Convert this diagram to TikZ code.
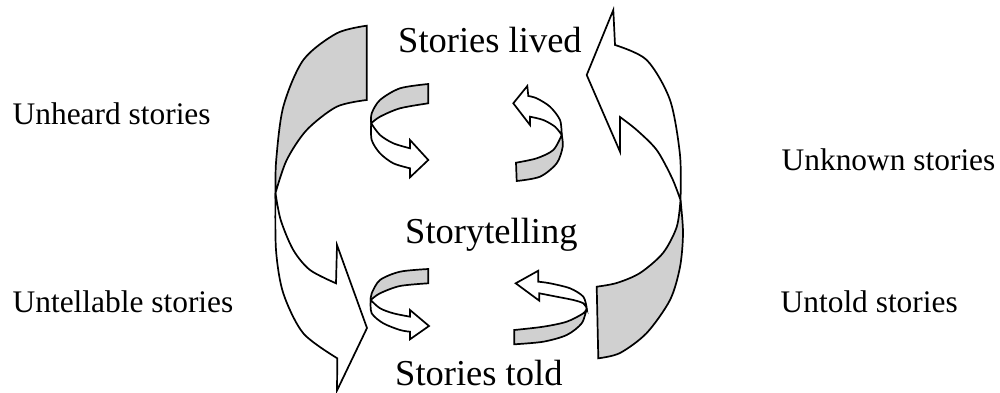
\documentclass[tikz,border=0pt]{standalone}
\usepackage{fontspec}
\setmainfont{Liberation Serif}
\definecolor{bandgrey}{RGB}{208,208,208}
\tikzset{
  band/.style={draw=black, line width=1.7pt, line join=miter},
  greyband/.style={band, fill=bandgrey},
  whiteband/.style={band, fill=white},
  sidelabel/.style={anchor=base west, inner sep=0pt, font=\fontsize{31.4}{36}\selectfont},
  midlabel/.style={anchor=base west, inner sep=0pt, font=\fontsize{36.5}{42}\selectfont},
}
\begin{document}
\begin{tikzpicture}[x=1pt,y=-1pt]
\useasboundingbox (0,0) rectangle (1000,393);

% ---------- left big circular arrow ----------
\filldraw[greyband] plot[smooth] coordinates {(366.7,25.7) (336.7,33.3) (303.3,60) (283.3,106.7) (276.2,160) (275.5,193)}
  -- plot[smooth] coordinates {(275.5,193) (286.7,160) (306.7,130) (336.7,106.7) (366.7,100)} -- cycle;
\filldraw[whiteband] plot[smooth] coordinates {(275.5,193) (276,250) (283.3,293.3) (303.3,333.3) (337.3,358.3)}
  -- (337,390.5) -- (367,328) -- (337,245) -- (336,283.3)
  -- plot[smooth] coordinates {(336,283.3) (310,270) (293.3,250) (280.7,220) (275.5,193)} -- cycle;

% ---------- right big circular arrow ----------
\filldraw[whiteband] plot[smooth] coordinates {(615,45) (646.7,60) (670,100) (680,155) (680.5,200)}
  -- plot[smooth] coordinates {(680.5,200) (672,178) (656.7,150) (636.7,130) (620,117)}
  -- (620,151.7) -- (586.7,75) -- (613.3,10) -- cycle;
\filldraw[greyband] plot[smooth] coordinates {(680.5,200) (683,233) (680,267) (670,300) (646.7,333) (620,353) (598.3,358.3)}
  -- (596.7,286.7)
  -- plot[smooth] coordinates {(596.7,286.7) (616.7,283) (640,273) (663,253) (676.7,227) (680.5,200)} -- cycle;

% ---------- top-left small arrow ----------
\filldraw[greyband] plot[smooth] coordinates {(428.3,84) (400,88.3) (380,100) (371.7,113.3) (371.2,123.3)}
  -- plot[smooth] coordinates {(371.2,123.3) (380,116.7) (400,108.3) (428.3,103.3)} -- cycle;
\filldraw[whiteband] plot[smooth] coordinates {(371.2,123.3) (371.7,140) (380,153.3) (393.3,163.3) (410,168.3)}
  -- (410,177.3) -- (428.3,160) -- (410,140) -- (410,148.3)
  -- plot[smooth] coordinates {(410,148.3) (393.3,143.3) (380,135) (371.2,123.3)} -- cycle;

% ---------- top-right small arrow ----------
\filldraw[greyband] plot[smooth] coordinates {(516,162.7) (536.7,158.3) (553.3,150) (561.7,135)}
  -- plot[smooth] coordinates {(561.7,135) (562.7,146.7) (556.7,163.3) (540,176.7) (516.7,181)} -- cycle;
\filldraw[whiteband] plot[smooth] coordinates {(561.7,135) (560,120) (550,106.7) (536.7,98.3) (528.3,96)}
  -- (527.3,86) -- (513.3,103.3) -- (530,125) -- (530,116.7)
  -- plot[smooth] coordinates {(530,116.7) (543.3,120) (555,126.7) (561.7,135)} -- cycle;

% ---------- bottom-left small arrow ----------
\filldraw[greyband] plot[smooth] coordinates {(428.3,269) (400,271.7) (380,280) (371.7,293.3) (370.7,300)}
  -- plot[smooth] coordinates {(370.7,300) (380,293.3) (400,286) (428.3,283.3)} -- cycle;
\filldraw[whiteband] plot[smooth] coordinates {(370.7,300) (371.7,313.3) (383.3,323.3) (400,330) (410,331.7)}
  -- (410,339.3) -- (429,326) -- (410,310) -- (410,316.7)
  -- plot[smooth] coordinates {(410,316.7) (393.3,313.3) (380,308.3) (370.7,300)} -- cycle;

% ---------- bottom-right small arrow ----------
\filldraw[greyband] plot[smooth] coordinates {(514.3,330) (543.3,326.7) (566.7,321.7) (583.3,313.3) (586.7,308.3)}
  -- plot[smooth] coordinates {(586.7,308.3) (581.7,323.3) (566.7,335) (543.3,341.7) (514.3,344.3)} -- cycle;
\filldraw[whiteband] plot[smooth] coordinates {(586.7,308.3) (583.3,296.7) (570,288.3) (550,283.3) (538.3,281.7)}
  -- (538.3,270.7) -- (515.7,283.3) -- (539.3,300.7) -- (539.3,293.3)
  -- plot[smooth] coordinates {(539.3,293.3) (556.7,296.7) (573.3,300) (583.3,303.3) (586.7,308.3)} -- cycle;

% ---------- labels ----------
\node[midlabel] (lived) at (398,53) {Stories lived};
\node[midlabel] (telling) at (405,243) {Storytelling};
\node[midlabel] (told) at (395,385) {Stories told};
\node[sidelabel] (unheard) at (12.5,124.5) {Unheard stories};
\node[sidelabel] (untellable) at (12.5,312.5) {Untellable stories};
\node[sidelabel] (unknown) at (781.5,170) {Unknown stories};
\node[sidelabel] (untold) at (780.5,312.5) {Untold stories};
\end{tikzpicture}
\end{document}
